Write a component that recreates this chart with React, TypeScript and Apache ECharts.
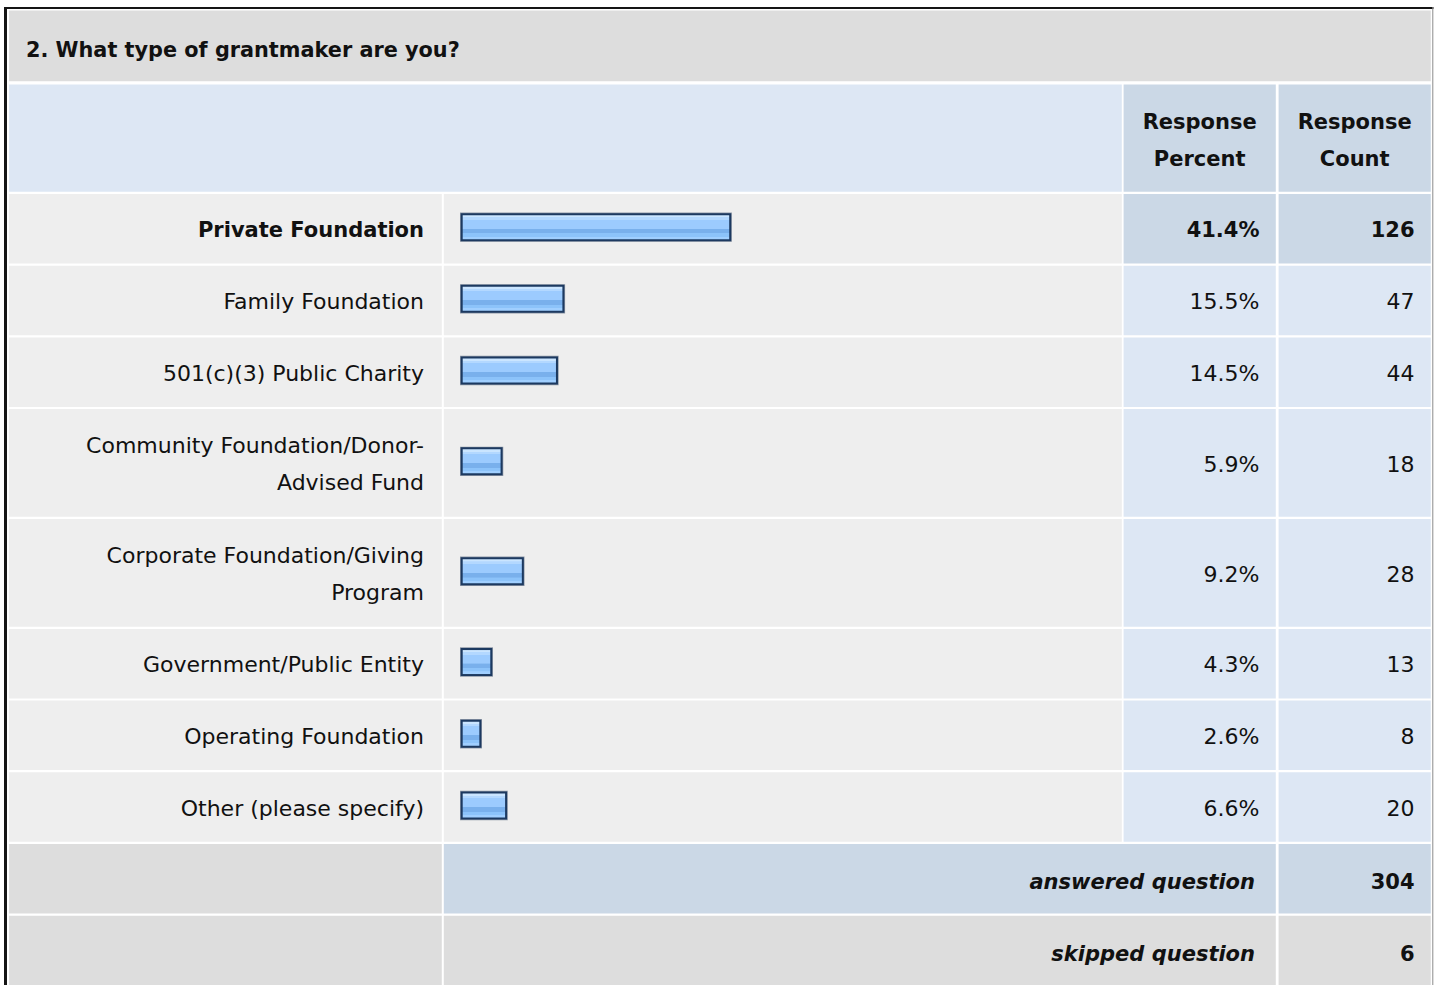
import React, { useEffect, useRef } from "react";
import * as echarts from "echarts";

// ---------- data ----------
const questionTitle = "2. What type of grantmaker are you?";
const headerPercent = "Response\nPercent";
const headerCount = "Response\nCount";
const categories = [
  "Private Foundation",
  "Family Foundation",
  "501(c)(3) Public Charity",
  "Community Foundation/Donor-\nAdvised Fund",
  "Corporate Foundation/Giving\nProgram",
  "Government/Public Entity",
  "Operating Foundation",
  "Other (please specify)",
];
const responsePercent = [41.4, 15.5, 14.5, 5.9, 9.2, 4.3, 2.6, 6.6];
const responseCount = [126, 47, 44, 18, 28, 13, 8, 20];
const summaryLabels = ["answered question", "skipped question"];
const summaryValues = [304, 6];

// ---------- layout ----------
const FONT = '"DejaVu Sans", Verdana, sans-serif';
const C1 = [9, 441.8];
const C2 = [443.8, 1121.8];
const C3 = [1123.6, 1275.8];
const C4 = [1278.6, 1430.8];
const ROW_TOP0 = 194;
const GAP = 2.2;
const ROW_BASE = 31.3;
const LINE = 38.2;
const BAR_MIN = -0.82;
const BAR_MAX = 100;
const PX_PER_UNIT = 6.44;
const BAR_LEFT = 460;

const GRAY = "#DDDDDD";
const LIGHT = "#EEEEEE";
const BLUE_L = "#DDE7F4";
const BLUE_D = "#CBD8E6";
const TXT = "#111111";

function rect(x0: number, x1: number, y0: number, y1: number, fill: string) {
  return {
    type: "rect",
    z: 0,
    silent: true,
    shape: { x: x0, y: y0, width: x1 - x0, height: y1 - y0 },
    style: { fill },
  };
}

function text(
  t: string,
  x: number,
  y: number,
  align: string,
  opts: { bold?: boolean; italic?: boolean; size?: number; lh?: number } = {}
) {
  return {
    type: "text",
    z: 10,
    silent: true,
    style: {
      text: t,
      x,
      y,
      align,
      verticalAlign: "middle",
      fontFamily: FONT,
      fontSize: opts.size ?? (opts.bold ? 21 : 22),
      fontWeight: opts.bold ? "bold" : "normal",
      fontStyle: opts.italic ? "italic" : "normal",
      lineHeight: opts.lh ?? 36.5,
      fill: TXT,
    },
  };
}

export default function App() {
  const ref = useRef<HTMLDivElement>(null);

  useEffect(() => {
    const chart = echarts.init(ref.current!, null, {
      renderer: "svg",
      width: 1434,
      height: 985,
    });

    // row geometry
    const rowTops: number[] = [];
    const rowHeights: number[] = [];
    let y = ROW_TOP0;
    categories.forEach((c) => {
      const n = c.split("\n").length;
      const h = ROW_BASE + LINE * n;
      rowTops.push(y);
      rowHeights.push(h);
      y += h + GAP;
    });
    const sumTops: number[] = [];
    for (let i = 0; i < summaryLabels.length; i++) {
      sumTops.push(y);
      y += ROW_BASE + LINE + GAP;
    }
    const sumH = ROW_BASE + LINE;

    const maxCount = Math.max(...responseCount);
    const hi = responseCount.indexOf(maxCount);

    const elements: any[] = [];
    // frame
    elements.push(rect(4, 7, 7, 985, "#151515"));
    elements.push(rect(4, 1433.5, 7, 9, "#151515"));
    elements.push(rect(1432.3, 1433.3, 7, 985, "#8a8a8a"));
    // title band
    elements.push(rect(9, 1430.8, 10.5, 81.3, GRAY));
    elements.push(text(questionTitle, 26, 49.5, "left", { bold: true, size: 20.8 }));
    // header row
    elements.push(rect(C1[0], C2[1], 84.6, 191.8, BLUE_L));
    elements.push(rect(C3[0], C3[1], 84.6, 191.8, BLUE_D));
    elements.push(rect(C4[0], C4[1], 84.6, 191.8, BLUE_D));
    elements.push(text(headerPercent, (C3[0] + C3[1]) / 2, 140.6, "center", { bold: true, lh: 36.3 }));
    elements.push(text(headerCount, (C4[0] + C4[1]) / 2, 140.6, "center", { bold: true, lh: 36.3 }));

    // data rows
    categories.forEach((c, i) => {
      const t = rowTops[i];
      const b = t + rowHeights[i];
      const cy = (t + b) / 2 + 1.2;
      const isHi = i === hi;
      elements.push(rect(C1[0], C1[1], t, b, LIGHT));
      elements.push(rect(C2[0], C2[1], t, b, LIGHT));
      elements.push(rect(C3[0], C3[1], t, b, isHi ? BLUE_D : BLUE_L));
      elements.push(rect(C4[0], C4[1], t, b, isHi ? BLUE_D : BLUE_L));
      elements.push(text(c, 424, cy, "right", { bold: isHi }));
      elements.push(text(responsePercent[i].toFixed(1) + "%", 1259.5, cy, "right", { bold: isHi }));
      elements.push(text(String(responseCount[i]), 1414.5, cy, "right", { bold: isHi }));
    });

    // summary rows
    summaryLabels.forEach((lab, i) => {
      const t = sumTops[i];
      const b = t + sumH;
      const fill = i === 0 ? BLUE_D : GRAY;
      elements.push(rect(C1[0], C1[1], t, b, GRAY));
      elements.push(rect(C2[0], C3[1], t, b, fill));
      elements.push(rect(C4[0], C4[1], t, b, fill));
      const cy = (t + b) / 2 + 3.4;
      elements.push(text(lab, 1255, cy, "right", { bold: true, italic: true }));
      elements.push(text(String(summaryValues[i]), 1414.5, cy, "right", { bold: true }));
    });

    const barFill = new echarts.graphic.LinearGradient(0, 0, 0, 1, [
      { offset: 0, color: "#CAE5FF" },
      { offset: 0.093, color: "#CAE5FF" },
      { offset: 0.094, color: "#B3D8FF" },
      { offset: 0.187, color: "#B3D8FF" },
      { offset: 0.188, color: "#9CCBFE" },
      { offset: 0.56, color: "#9CCBFE" },
      { offset: 0.561, color: "#79B0EC" },
      { offset: 0.76, color: "#79B0EC" },
      { offset: 0.761, color: "#8CC3FA" },
      { offset: 0.893, color: "#8CC3FA" },
      { offset: 0.894, color: "#A0CFFF" },
      { offset: 1, color: "#A0CFFF" },
    ]);

    const grids: any[] = [];
    const xAxes: any[] = [];
    const yAxes: any[] = [];
    const series: any[] = [];
    categories.forEach((c, i) => {
      grids.push({
        left: BAR_LEFT,
        top: rowTops[i],
        width: PX_PER_UNIT * (BAR_MAX - BAR_MIN),
        height: rowHeights[i],
        containLabel: false,
      });
      xAxes.push({ type: "value", gridIndex: i, min: BAR_MIN, max: BAR_MAX, show: false });
      yAxes.push({ type: "category", gridIndex: i, data: [c], show: false });
      series.push({
        type: "custom",
        xAxisIndex: i,
        yAxisIndex: i,
        silent: true,
        encode: { x: 0, y: 1 },
        data: [[responsePercent[i], 0]],
        renderItem: (params: any, api: any) => {
          const v = api.value(0);
          const a = api.coord([BAR_MIN, 0]);
          const e = api.coord([v, 0]);
          const h = 29.4;
          const x = a[0];
          const w = e[0] - a[0];
          const top = a[1] - 1.6 - h / 2;
          return {
            type: "group",
            children: [
              { type: "rect", shape: { x, y: top, width: w, height: h }, style: { fill: "#8c96a5" } },
              {
                type: "rect",
                shape: { x: x + 0.7, y: top + 0.7, width: w - 1.4, height: h - 1.4 },
                style: { fill: "#1c3960" },
              },
              {
                type: "rect",
                shape: { x: x + 2.7, y: top + 2.7, width: w - 5.4, height: h - 5.4 },
                style: { fill: barFill },
              },
            ],
          };
        },
      });
    });

    chart.setOption({
      animation: false,
      backgroundColor: "#ffffff",
      grid: grids,
      xAxis: xAxes,
      yAxis: yAxes,
      series,
      graphic: { elements },
    });

    return () => chart.dispose();
  }, []);

  return (
    <div
      ref={ref}
      style={{ position: "fixed", left: 0, top: 0, width: 1434, height: 985, background: "#fff" }}
    />
  );
}
